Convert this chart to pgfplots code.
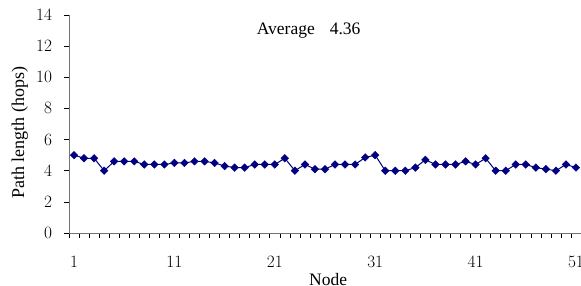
\documentclass[border=0pt]{standalone}
\usepackage{fontspec}
\setmainfont{Liberation Serif}
\usepackage{pgfplots}
\pgfplotsset{compat=1.18}
\definecolor{exnavy}{RGB}{0,0,128}
\begin{document}
\fontsize{17.5}{20}\selectfont
\begin{tikzpicture}[x=1pt,y=1pt]
\useasboundingbox (0,0) rectangle (581,286);
\begin{axis}[
  at={(69pt,53pt)}, anchor=south west,
  scale only axis, width=512pt, height=218pt,
  xmin=0.5, xmax=51.5, ymin=0, ymax=14,
  axis x line=bottom, axis y line=left,
  axis line style={draw=black!55, line width=0.8pt, -},
  xtick={1,11,21,31,41,51},
  minor xtick={0.5,1.5,...,51.5},
  major x tick style={draw=none},
  minor x tick style={draw=black, line width=0.6pt},
  ytick={0,2,...,14},
  y tick style={draw=black, line width=0.6pt},
  tick align=outside,
  major tick length=5pt, minor tick length=5pt,
  xticklabel style={yshift=-12pt},
  yticklabel style={xshift=-6pt},
  tick label style={font=\fontsize{17.5}{20}\selectfont},
  every axis y label/.style={at={(axis description cs:-0.096,0.46)}, rotate=90, anchor=center, font=\fontsize{18}{20}\selectfont},
  every axis x label/.style={at={(axis description cs:0.506,-0.215)}, anchor=center, font=\fontsize{17.5}{20}\selectfont},
  xlabel={Node}, ylabel={Path length (hops)},
  clip=false,
]
\addplot[color=exnavy, line width=1pt, mark=square*, mark size=2.7pt, mark options={rotate=45, fill=exnavy, draw=exnavy, line width=0.4pt}]
coordinates {
(1,5.0)(2,4.8)(3,4.8)(4,4.0)(5,4.6)(6,4.6)(7,4.6)(8,4.4)(9,4.4)(10,4.4)
(11,4.5)(12,4.5)(13,4.6)(14,4.6)(15,4.5)(16,4.3)(17,4.2)(18,4.2)(19,4.4)(20,4.4)
(21,4.4)(22,4.8)(23,4.0)(24,4.4)(25,4.1)(26,4.1)(27,4.4)(28,4.4)(29,4.4)(30,4.85)
(31,5.0)(32,4.0)(33,4.0)(34,4.0)(35,4.2)(36,4.7)(37,4.4)(38,4.4)(39,4.4)(40,4.6)
(41,4.4)(42,4.8)(43,4.0)(44,4.0)(45,4.4)(46,4.4)(47,4.2)(48,4.1)(49,4.0)(50,4.4)
(51,4.2)
};
\node[anchor=center, font=\fontsize{17.5}{20}\selectfont] at (axis description cs:0.468,0.928) {Average\hspace{15pt}4.36};
\end{axis}
\end{tikzpicture}
\end{document}
